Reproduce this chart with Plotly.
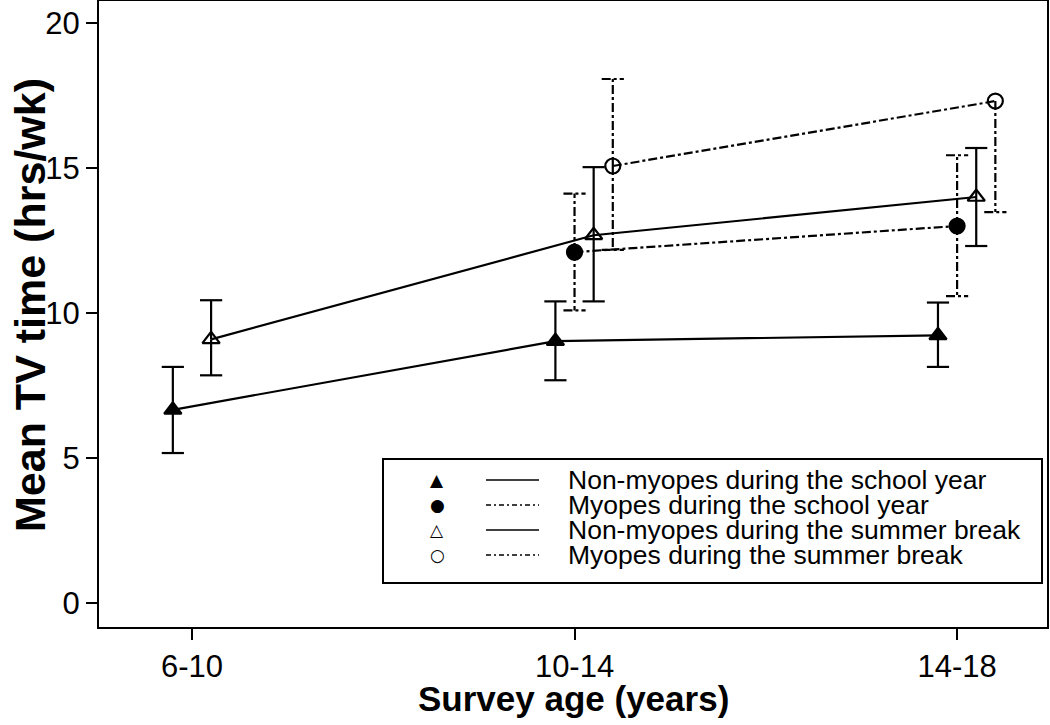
import plotly.graph_objects as go

# ---------------- data ----------------
categories = ["6-10", "10-14", "14-18"]

nm_school_mean = [6.67, 9.04, 9.24]
nm_school_lo = [5.18, 7.69, 8.15]
nm_school_hi = [8.15, 10.41, 10.37]

my_school_mean = [None, 12.11, 13.01]
my_school_lo = [None, 10.10, 10.59]
my_school_hi = [None, 14.13, 15.45]

nm_summer_mean = [9.10, 12.69, 14.01]
nm_summer_lo = [7.86, 10.41, 12.32]
nm_summer_hi = [10.45, 15.04, 15.70]

my_summer_mean = [None, 15.08, 17.32]
my_summer_lo = [None, 12.19, 13.49]
my_summer_hi = [None, 18.08, None]

legend_labels = [
    "Non-myopes during the school year",
    "Myopes during the school year",
    "Non-myopes during the summer break",
    "Myopes during the summer break",
]

# ---------------- styles ----------------
FONT = "Liberation Sans, Arial, sans-serif"
DASHDOT = "9px,3px,3px,3px"
series = [
    dict(mean=nm_school_mean, lo=nm_school_lo, hi=nm_school_hi, dodge=-0.05,
         symbol="triangle-up", size=15, dash="solid", key="▲"),
    dict(mean=my_school_mean, lo=my_school_lo, hi=my_school_hi, dodge=0.0,
         symbol="circle", size=15, dash=DASHDOT, key="●"),
    dict(mean=nm_summer_mean, lo=nm_summer_lo, hi=nm_summer_hi, dodge=0.05,
         symbol="triangle-up-open", size=15, dash="solid", key="△"),
    dict(mean=my_summer_mean, lo=my_summer_lo, hi=my_summer_hi, dodge=0.10,
         symbol="circle-open", size=15, dash=DASHDOT, key="○"),
]

xi = list(range(1, len(categories) + 1))
CAP = 0.029
LW = 2.2

fig = go.Figure()

# error bars
for s in series:
    ex, ey = [], []
    for i, (m, lo, hi) in enumerate(zip(s["mean"], s["lo"], s["hi"])):
        if m is None:
            continue
        x = xi[i] + s["dodge"]
        for b in (lo, hi):
            if b is None:
                continue
            ex += [x, x, None, x - CAP, x + CAP, None]
            ey += [m, b, None, b, b, None]
    fig.add_trace(go.Scatter(x=ex, y=ey, mode="lines",
                             line=dict(color="black", width=LW, dash=s["dash"]),
                             hoverinfo="skip", showlegend=False))

# mean lines + markers
for s, name in zip(series, legend_labels):
    px = [xi[i] + s["dodge"] for i, m in enumerate(s["mean"]) if m is not None]
    py = [m for m in s["mean"] if m is not None]
    fig.add_trace(go.Scatter(
        x=px, y=py, mode="lines+markers", name=name,
        line=dict(color="black", width=LW, dash=s["dash"]),
        marker=dict(symbol=s["symbol"], size=s["size"], color="black",
                    line=dict(color="black", width=2.2)),
        showlegend=False))

# ---------------- custom legend ----------------
L, R, T, B = 99, 3, 1, 98
W, H = 1050, 725
pw, ph = W - L - R, H - T - B


def px2x(p):
    return (p - L) / pw


def py2y(p):
    return (H - B - p) / ph


shapes = [dict(type="rect", xref="paper", yref="paper",
               x0=px2x(383), x1=px2x(1042), y0=py2y(583), y1=py2y(459),
               line=dict(color="black", width=2), fillcolor="white", layer="above")]
annotations = []
rows = [480, 505, 530, 555]
for s, name, r in zip(series, legend_labels, rows):
    yy = py2y(r)
    shapes.append(dict(type="line", xref="paper", yref="paper",
                       x0=px2x(486), x1=px2x(539), y0=yy, y1=yy,
                       line=dict(color="black", width=1.5,
                                 dash="solid" if s["dash"] == "solid" else "5px,3px,2px,3px"),
                       layer="above"))
    annotations.append(dict(xref="paper", yref="paper", x=px2x(437), y=yy,
                            text=s["key"], showarrow=False, xanchor="center", yanchor="middle",
                            font=dict(family="DejaVu Sans", size=17, color="black")))
    annotations.append(dict(xref="paper", yref="paper", x=px2x(566), y=yy,
                            text=name, showarrow=False, xanchor="left", yanchor="middle",
                            font=dict(family=FONT, size=26.5, color="black")))

# axis titles as annotations (fixed positions)
annotations.append(dict(xref="paper", yref="paper", x=0.5, y=py2y(698),
                        text="Survey age (years)", showarrow=False,
                        xanchor="center", yanchor="middle",
                        font=dict(family=FONT, size=35, color="black", weight="bold")))
annotations.append(dict(xref="paper", yref="paper", x=px2x(30), y=py2y(305),
                        text="Mean TV time (hrs/wk)", showarrow=False, textangle=-90,
                        xanchor="center", yanchor="middle",
                        font=dict(family=FONT, size=43, color="black", weight="bold")))

axis_common = dict(showline=True, linewidth=2, linecolor="black", mirror=True,
                   ticks="outside", ticklen=11, tickwidth=2, tickcolor="black",
                   showgrid=False, zeroline=False, automargin=False,
                   tickfont=dict(family=FONT, size=31, color="black"))

fig.update_layout(
    width=W, height=H,
    margin=dict(l=L, r=R, t=T, b=B),
    plot_bgcolor="white", paper_bgcolor="white",
    showlegend=False,
    shapes=shapes, annotations=annotations,
    xaxis=dict(range=[0.757, 3.235], tickvals=xi, ticktext=categories, **axis_common),
    yaxis=dict(range=[-0.82, 20.77], tickvals=[0, 5, 10, 15, 20], **axis_common),
)

fig.write_html("out.html", config={"displayModeBar": False},
               post_script="document.body.style.margin='0';document.body.style.padding='0';")
